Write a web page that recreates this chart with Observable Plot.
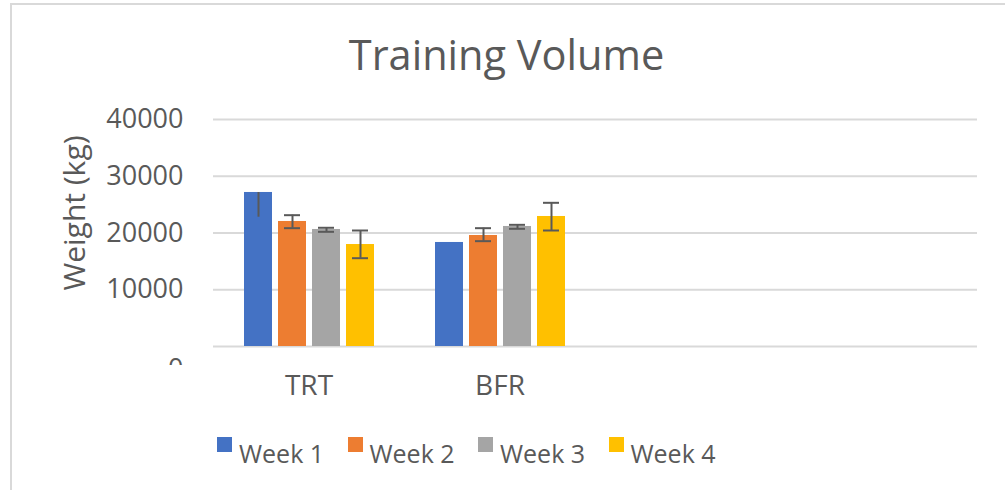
<!DOCTYPE html>
<html>
<head>
<meta charset="utf-8">
<script src="https://cdn.jsdelivr.net/npm/d3@7"></script>
<script src="https://cdn.jsdelivr.net/npm/@observablehq/plot@0.6"></script>
<style>
  html, body { margin: 0; padding: 0; background: #fff; }
  #wrap { position: relative; width: 1005px; height: 490px; overflow: hidden; font-family: 'Open Sans', sans-serif; color: #595959; }
  #border { position: absolute; left: 10px; top: 3px; width: 1100px; height: 600px; border-left: 2px solid #d9d9d9; border-top: 2px solid #d9d9d9; }
  #title { position: absolute; left: 0; width: 1013px; top: 34px; text-align: center; font-size: 41.5px; line-height: 41.5px; white-space: nowrap; }
  #chart { position: absolute; left: 0; top: 100px; }
  #mask { position: absolute; left: 140px; top: 365px; width: 60px; height: 20px; background: #fff; }
  #legend { position: absolute; left: 217px; top: 430px; display: flex; }
  .item { position: relative; width: 130.5px; height: 40px; }
  .sw { position: absolute; left: 0; top: 7px; width: 15px; height: 15px; }
  .lab { position: absolute; left: 22px; top: 11px; font-size: 25px; line-height: 25px; white-space: nowrap; }
</style>
</head>
<body>
<div id="wrap">
  <div id="border"></div>
  <div id="title"></div>
  <div id="chart"></div>
  <div id="mask"></div>
  <div id="legend"></div>
</div>
<script>
const chartTitle = "Training Volume";
const yLabel = "Weight (kg)";
const categories = ["TRT", "BFR", " ", "  "];
const weeks = ["Week 1", "Week 2", "Week 3", "Week 4"];
const colors = ["#4472C4", "#ED7D31", "#A5A5A5", "#FFC000"];
const yTicks = [0, 10000, 20000, 30000, 40000];

const trtValues = [27140, 22030, 20620, 17970];
const trtLow    = [22780, 20850, 20210, 15560];
const trtHigh   = [27140, 23140, 20920, 20440];

const bfrValues = [18330, 19560, 21150, 22910];
const bfrLow    = [null, 18560, 20740, 20440];
const bfrHigh   = [null, 20850, 21440, 25320];

const series = [
  {group: "TRT", values: trtValues, low: trtLow, high: trtHigh},
  {group: "BFR", values: bfrValues, low: bfrLow, high: bfrHigh}
];

const bars = [], errs = [], caps = [];
for (const s of series) {
  weeks.forEach((w, i) => {
    bars.push({group: s.group, week: w, value: s.values[i]});
    if (s.low[i] != null) {
      errs.push({group: s.group, week: w, low: s.low[i], high: s.high[i]});
      if (s.high[i] > s.values[i] && s.low[i] < s.values[i]) {
        caps.push({group: s.group, week: w, v: s.low[i]});
        caps.push({group: s.group, week: w, v: s.high[i]});
      }
    }
  });
}
// gridlines in every category slot (including the empty ones)
const grid = categories.flatMap(c => yTicks.map(t => ({group: c, y: t})));

document.getElementById("title").textContent = chartTitle;

const plot = Plot.plot({
  width: 1005,
  height: 310,
  marginTop: 19,
  marginBottom: 64,
  marginLeft: 213,
  marginRight: 28,
  style: {fontFamily: "'Open Sans', sans-serif", fontSize: "27px", color: "#595959", background: "transparent", overflow: "visible"},
  fx: {domain: categories, padding: 0},
  x: {domain: weeks, paddingInner: 0.19, paddingOuter: 0.86, axis: null},
  y: {domain: [0, 40000]},
  color: {domain: weeks, range: colors},
  marks: [
    Plot.ruleY(grid, {fx: "group", y: "y", stroke: "#d9d9d9", strokeWidth: 2}),
    Plot.barY(bars, {fx: "group", x: "week", y: "value", fill: "week"}),
    Plot.ruleX(errs, {fx: "group", x: "week", y1: "low", y2: "high", stroke: "#595959", strokeWidth: 2}),
    Plot.tickY(caps, {fx: "group", x: "week", y: "v", stroke: "#595959", strokeWidth: 2, insetLeft: 6, insetRight: 6}),
    Plot.axisY({ticks: yTicks.filter(t => t > 0), tickFormat: d => String(d), tickSize: 0, tickPadding: 30, label: null}),
    Plot.axisY({ticks: [0], tickFormat: d => String(d), tickSize: 0, tickPadding: 30, dy: 23, label: null}),
    Plot.text([{group: categories[0], t: yLabel}], {fx: "group", text: "t", frameAnchor: "left", textAnchor: "middle", lineAnchor: "middle", rotate: -90, dx: -138, dy: -20, fontSize: 30, fill: "#595959"}),
    Plot.axisFx({anchor: "bottom", tickSize: 0, tickPadding: 29, fontSize: 28, label: null})
  ]
});
document.getElementById("chart").appendChild(plot);

const legend = document.getElementById("legend");
weeks.forEach((w, i) => {
  const item = document.createElement("div");
  item.className = "item";
  const sw = document.createElement("div");
  sw.className = "sw";
  sw.style.background = colors[i];
  const lab = document.createElement("div");
  lab.className = "lab";
  lab.textContent = w;
  item.appendChild(sw);
  item.appendChild(lab);
  legend.appendChild(item);
});
</script>
</body>
</html>
